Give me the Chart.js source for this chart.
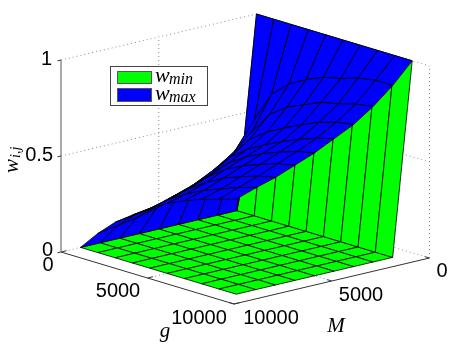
<!DOCTYPE html>
<html>
<head>
<meta charset="utf-8">
<script src="https://cdn.jsdelivr.net/npm/chart.js@4"></script>
<style>
  html, body { margin: 0; padding: 0; background: #fff; }
  canvas { display: block; }
</style>
</head>
<body>
<canvas id="myChart" width="457" height="347"></canvas>
<script>
// grid of the two surfaces
const gGrid = [0, 1000, 2000, 3000, 4000, 5000, 6000, 7000, 8000, 9000];
const mGrid = [0, 1000, 2000, 3000, 4000, 5000, 6000, 7000, 8000, 9000];

// wmax, one list per M, going through gGrid
const wMaxM0 = [1, 1, 1, 1, 1, 1, 1, 1, 1, 1];
const wMaxM1 = [0, 0.50, 0.66, 0.74, 0.79, 0.83, 0.85, 0.88, 0.895, 0.895];
const wMaxM2 = [0, 0.36, 0.49, 0.605, 0.67, 0.71, 0.75, 0.77, 0.795, 0.81];
const wMaxM3 = [0, 0.285, 0.40, 0.50, 0.565, 0.614, 0.658, 0.697, 0.725, 0.74];
const wMaxM4 = [0, 0.235, 0.335, 0.43, 0.50, 0.55, 0.594, 0.633, 0.666, 0.69];
const wMaxM5 = [0, 0.19, 0.285, 0.365, 0.45, 0.51, 0.555, 0.59, 0.62, 0.64];
const wMaxM6 = [0, 0.16, 0.25, 0.325, 0.405, 0.47, 0.515, 0.55, 0.58, 0.60];
const wMaxM7 = [0, 0.135, 0.215, 0.295, 0.365, 0.425, 0.475, 0.51, 0.54, 0.56];
const wMaxM8 = [0, 0.115, 0.20, 0.265, 0.335, 0.39, 0.435, 0.47, 0.505, 0.53];
const wMaxM9 = [0, 0.10, 0.185, 0.25, 0.31, 0.365, 0.405, 0.44, 0.467, 0.495];
const wMaxRows = [wMaxM0, wMaxM1, wMaxM2, wMaxM3, wMaxM4, wMaxM5, wMaxM6, wMaxM7, wMaxM8, wMaxM9];

// wmin is 1 on the M=0 edge and flat zero everywhere else
const wMinM0 = [1, 1, 1, 1, 1, 1, 1, 1, 1, 1];
const wMinFlat = [0, 0, 0, 0, 0, 0, 0, 0, 0, 0];
const wMinRows = [wMinM0, wMinFlat, wMinFlat, wMinFlat, wMinFlat, wMinFlat, wMinFlat, wMinFlat, wMinFlat, wMinFlat];

const wTicks = [0, 0.5, 1];
const gTicks = [0, 5000, 10000];
const mTicks = [0, 5000, 10000];
const axisMax = 10000;

// view of the 3d box, same thing matlab would do with view(az,el)
const view = {
  ox: 61, oy: 252,     // floor corner g=0, M=axisMax
  gx: 173, gy: 52,     // g axis on screen
  mx: 195.5, my: -46,  // M axis on screen, from M=axisMax to M=0
  zh: 192              // height of w=1
};

function project(g, m, w) {
  const a = g / axisMax, b = (axisMax - m) / axisMax;
  return {
    x: view.ox + view.gx * a + view.mx * b,
    y: view.oy + view.gy * a + view.my * b - view.zh * w
  };
}

// bigger = closer to the viewer
function depth(g, m, w) {
  return 3.5 * (view.gy * g / axisMax + 46 * m / axisMax) + 55 * w;
}

function surfaceCells(rows, color) {
  const out = [];
  for (let i = 0; i < mGrid.length - 1; i++) {
    for (let j = 0; j < gGrid.length - 1; j++) {
      const corners = [[i, j], [i, j + 1], [i + 1, j + 1], [i + 1, j]];
      let d = 0;
      const pts = corners.map(c => {
        const g = gGrid[c[1]], m = mGrid[c[0]], w = rows[c[0]][c[1]];
        d += depth(g, m, w) / 4;
        return project(g, m, w);
      });
      pts.push(pts[0]);
      out.push({
        data: pts,
        showLine: true,
        pointRadius: 0,
        borderColor: '#000',
        borderWidth: 0.8,
        backgroundColor: color,
        fill: 'shape',
        order: -d
      });
    }
  }
  return out;
}

function axisLine(a, b, color, dash, width) {
  return {
    data: [a, b],
    showLine: true,
    pointRadius: 0,
    borderColor: color,
    borderWidth: width || 1,
    borderDash: dash || [],
    fill: false,
    order: 100000
  };
}

const dots = [1, 3];
const dotCol = '#8c8c8c';
const axCol = '#333';
const boxSets = [];

// back walls and floor grid
wTicks.forEach(w => {
  if (w > 0) {
    boxSets.push(axisLine(project(0, axisMax, w), project(0, 0, w), dotCol, dots));
    boxSets.push(axisLine(project(0, 0, w), project(axisMax, 0, w), dotCol, dots));
  }
});
boxSets.push(axisLine(project(0, axisMax, 0), project(0, 0, 0), dotCol, dots));
boxSets.push(axisLine(project(0, 0, 0), project(axisMax, 0, 0), dotCol, dots));
boxSets.push(axisLine(project(0, 0, 0), project(0, 0, 1), dotCol, dots));
boxSets.push(axisLine(project(axisMax, 0, 0), project(axisMax, 0, 1), dotCol, dots));
boxSets.push(axisLine(project(0, 5000, 0), project(0, 5000, 1), dotCol, dots));
boxSets.push(axisLine(project(5000, 0, 0), project(5000, 0, 1), dotCol, dots));
boxSets.push(axisLine(project(0, 5000, 0), project(axisMax, 5000, 0), dotCol, dots));
boxSets.push(axisLine(project(5000, 0, 0), project(5000, axisMax, 0), dotCol, dots));

// solid axes and tick marks
boxSets.push(axisLine(project(0, axisMax, 0), project(0, axisMax, 1), '#555'));
boxSets.push(axisLine(project(0, axisMax, 0), project(axisMax, axisMax, 0), axCol));
boxSets.push(axisLine(project(axisMax, axisMax, 0), project(axisMax, 0, 0), axCol));
wTicks.forEach(w => boxSets.push(axisLine(project(0, axisMax, w), project(0, axisMax + 180, w), axCol)));
gTicks.forEach(g => boxSets.push(axisLine(project(g, axisMax, 0), project(g, axisMax - 280, 0), axCol)));
mTicks.forEach(m => boxSets.push(axisLine(project(axisMax, m, 0), project(axisMax - 280, m, 0), axCol)));

const labelPlugin = {
  id: 'labelPlugin',
  afterDraw(chart) {
    const ctx = chart.ctx;
    ctx.save();
    ctx.fillStyle = '#000';
    ctx.textBaseline = 'middle';
    ctx.font = '20px "Liberation Sans"';

    ctx.textAlign = 'right';
    ctx.fillText('1', 52, 59);
    ctx.fillText('0.5', 53, 155);
    ctx.fillText('0', 53, 250);

    ctx.textAlign = 'center';
    ctx.fillText(String(gTicks[0]), 48, 265);
    ctx.fillText(String(gTicks[1]), 118, 291);
    ctx.fillText(String(gTicks[2]), 199, 318);
    ctx.fillText(String(mTicks[2]), 271, 318);
    ctx.fillText(String(mTicks[1]), 361, 295);
    ctx.fillText(String(mTicks[0]), 442, 271);

    // axis names
    ctx.font = 'italic 21px "Liberation Serif"';
    ctx.fillText('g', 165, 331);
    ctx.fillText('M', 336, 326);

    ctx.save();
    ctx.translate(12, 158);
    ctx.rotate(-Math.PI / 2);
    ctx.textAlign = 'left';
    ctx.font = 'italic 21px "Liberation Serif"';
    ctx.fillText('w', -15, 0);
    ctx.font = 'italic 14px "Liberation Serif"';
    ctx.fillText('i,j', 0, 4);
    ctx.restore();

    // legend box
    ctx.fillStyle = '#fff';
    ctx.strokeStyle = '#444';
    ctx.lineWidth = 1;
    ctx.fillRect(110.5, 66.5, 97, 39);
    ctx.strokeRect(110.5, 66.5, 97, 39);
    ctx.strokeStyle = '#555';
    ctx.fillStyle = '#00ff00';
    ctx.fillRect(117.5, 71.5, 34, 12);
    ctx.strokeRect(117.5, 71.5, 34, 12);
    ctx.fillStyle = '#0000ff';
    ctx.fillRect(117.5, 88.5, 34, 13);
    ctx.strokeRect(117.5, 88.5, 34, 13);

    ctx.fillStyle = '#000';
    ctx.textAlign = 'left';
    ctx.font = 'italic 22px "Liberation Serif"';
    ctx.fillText('w', 155, 76);
    ctx.fillText('w', 155, 94);
    ctx.font = 'italic 16px "Liberation Serif"';
    ctx.fillText('min', 169, 80);
    ctx.fillText('max', 169, 98);
    ctx.restore();
  }
};

const config = {
  type: 'scatter',
  data: {
    datasets: boxSets.concat(surfaceCells(wMinRows, '#00ff00'), surfaceCells(wMaxRows, '#0000ff'))
  },
  options: {
    responsive: false,
    animation: false,
    layout: { padding: 0 },
    plugins: { legend: { display: false }, tooltip: { enabled: false } },
    scales: {
      x: { type: 'linear', min: 0, max: 457, display: false },
      y: { type: 'linear', min: 0, max: 347, reverse: true, display: false }
    }
  },
  plugins: [labelPlugin]
};

const myChart = new Chart(document.getElementById('myChart'), config);
</script>
</body>
</html>
